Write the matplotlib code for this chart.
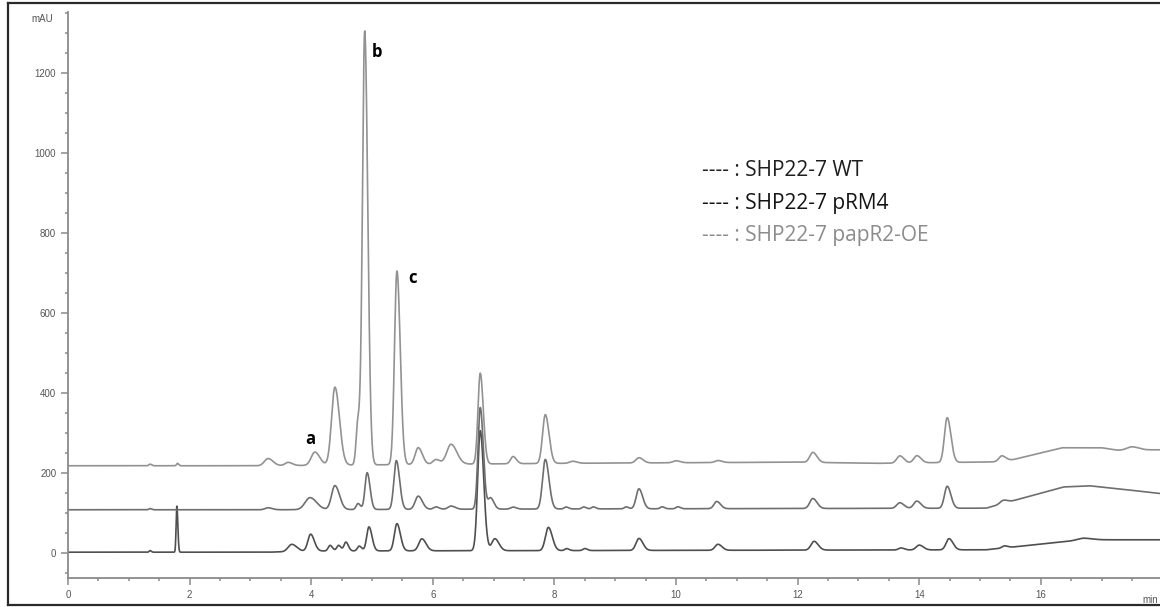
import numpy as np
import matplotlib.pyplot as plt
from matplotlib.lines import Line2D
from matplotlib.ticker import MultipleLocator

# peak tables: retention time (min), height (mAU), sigma (min)
top_rt = [1.35, 1.8, 3.29, 3.62, 4.06, 4.39, 4.77, 4.88, 5.41, 5.76, 6.05, 6.3, 6.78,
          7.32, 7.85, 8.3, 9.39, 10.0, 10.69, 12.25, 13.68, 13.96, 14.46, 15.36, 17.5]
top_h = [4, 6, 18, 8, 33, 195, 110, 1082, 484, 42, 12, 50, 227,
         18, 122, 5, 13, 5, 5, 25, 18, 18, 112, 15, 8]
top_w = [0.02, 0.015, 0.06, 0.05, 0.06, 0.055, 0.03, 0.037, 0.04, 0.05, 0.05, 0.07, 0.037,
         0.04, 0.045, 0.05, 0.05, 0.05, 0.05, 0.05, 0.05, 0.05, 0.045, 0.05, 0.08]
top_base_t = [0, 3.2, 8.0, 12.0, 13.3, 15.4, 16.35, 17.0, 17.25, 18.0]
top_base_v = [218, 218, 224, 227, 224, 228, 263, 263, 257, 258]

mid_rt = [1.35, 3.29, 3.98, 4.39, 4.77, 4.92, 5.40, 5.76, 6.05, 6.3, 6.78, 6.95, 7.32,
          7.85, 8.19, 8.48, 8.64, 9.18, 9.39, 9.77, 10.03, 10.67, 12.25, 13.68, 13.96,
          14.46, 15.38]
mid_h = [3, 5, 30, 60, 15, 92, 122, 33, 6, 8, 254, 28, 5,
         124, 5, 5, 5, 5, 50, 5, 5, 18, 25, 14, 18,
         55, 8]
mid_w = [0.02, 0.05, 0.08, 0.055, 0.03, 0.035, 0.04, 0.05, 0.04, 0.05, 0.037, 0.04, 0.04,
         0.045, 0.03, 0.03, 0.03, 0.03, 0.045, 0.03, 0.03, 0.045, 0.05, 0.05, 0.05,
         0.045, 0.05]
mid_base_t = [0, 3.2, 8.0, 15.1, 16.37, 16.8, 17.3, 18.0]
mid_base_v = [108, 108, 110, 112, 165, 168, 160, 148]

bot_rt = [1.35, 1.79, 3.68, 3.99, 4.31, 4.45, 4.57, 4.79, 4.95, 5.41, 5.82, 6.78, 7.02,
          7.9, 8.2, 8.5, 9.39, 10.69, 12.27, 13.7, 14.0, 14.49, 15.4, 16.7]
bot_h = [4, 115, 18, 42, 14, 14, 22, 12, 60, 68, 30, 300, 30,
         58, 5, 5, 30, 15, 22, 5, 12, 28, 5, 4]
bot_w = [0.015, 0.012, 0.06, 0.045, 0.03, 0.03, 0.03, 0.03, 0.037, 0.042, 0.05, 0.042, 0.05,
         0.048, 0.03, 0.03, 0.048, 0.048, 0.05, 0.04, 0.05, 0.048, 0.04, 0.1]
bot_base_t = [0, 3.3, 4.0, 8.0, 15.1, 16.37, 16.7, 18.0]
bot_base_v = [2, 2, 5, 6, 8, 28, 33, 33]

legend_labels = ["---- : SHP22-7 WT", "---- : SHP22-7 pRM4", "---- : SHP22-7 papR2-OE"]
legend_colors = ["#1e1e1e", "#141414", "#8c8c8c"]

t = np.linspace(0, 18, 9000)


def trace(rt, h, w, base_t, base_v, tail=1.35):
  y = np.interp(t, base_t, base_v)
  for r, a, s in zip(rt, h, w):
    sig = np.where(t < r, s, s * tail)
    y = y + a * np.exp(-0.5 * ((t - r) / sig) ** 2)
  return y


fig = plt.figure(figsize=(11.6, 6.07), dpi=100)
ax = fig.add_axes([68 / 1160, 29 / 607, 1 - 68 / 1160, (578 - 12) / 607])

ax.plot(t, trace(bot_rt, bot_h, bot_w, bot_base_t, bot_base_v), color="#4f4f4f", lw=1.2)
ax.plot(t, trace(mid_rt, mid_h, mid_w, mid_base_t, mid_base_v), color="#6e6e6e", lw=1.2)
ax.plot(t, trace(top_rt, top_h, top_w, top_base_t, top_base_v), color="#929292", lw=1.2)

ax.set_xlim(0, 17.96)
ax.set_ylim(-62.5, 1352)

for s in ["top", "right"]:
  ax.spines[s].set_visible(False)
for s in ["left", "bottom"]:
  ax.spines[s].set_color("#8a8a8a")
  ax.spines[s].set_linewidth(1.3)

ax.xaxis.set_major_locator(MultipleLocator(2))
ax.xaxis.set_minor_locator(MultipleLocator(0.5))
ax.yaxis.set_major_locator(MultipleLocator(200))
ax.yaxis.set_minor_locator(MultipleLocator(50))
ax.set_yticks([0, 200, 400, 600, 800, 1000, 1200])
ax.set_xticks([0, 2, 4, 6, 8, 10, 12, 14, 16])
ax.tick_params(which="both", colors="#8a8a8a", labelcolor="#555555",
               labelsize=7, width=1.1)
ax.tick_params(which="major", length=5)
ax.tick_params(which="minor", length=2.5)
for lab in ax.get_xticklabels() + ax.get_yticklabels():
  lab.set_family("Liberation Sans")

ax.text(-0.25, 1335, "mAU", ha="right", va="center", fontsize=7,
        color="#555555", family="Liberation Sans")
ax.text(17.93, -118, "min", ha="right", va="center", fontsize=7,
        color="#555555", family="Liberation Sans", clip_on=False)

# peak labels
ax.text(3.98, 285, "a", fontsize=12, fontweight="bold", family="Open Sans",
        ha="center", va="center")
ax.text(5.08, 1252, "b", fontsize=12, fontweight="bold", family="Open Sans",
        ha="center", va="center")
ax.text(5.66, 688, "c", fontsize=12, fontweight="bold", family="Open Sans",
        ha="center", va="center")

# legend as plain text lines
for i, (lab, col) in enumerate(zip(legend_labels, legend_colors)):
  fig.text(702 / 1160, 1 - (170 + 33 * i) / 607, lab, fontsize=15, color=col,
           family="Open Sans", ha="left", va="center")

# outer frame of the original screenshot
fig.add_artist(Line2D([8 / 1160, 8 / 1160], [2 / 607, 1 - 3 / 607], color="#2a2a2a", lw=1.6))
fig.add_artist(Line2D([8 / 1160, 1], [1 - 3 / 607, 1 - 3 / 607], color="#2a2a2a", lw=1.6))
fig.add_artist(Line2D([8 / 1160, 1], [2 / 607, 2 / 607], color="#2a2a2a", lw=1.6))

fig.savefig("out.png", dpi=100)
